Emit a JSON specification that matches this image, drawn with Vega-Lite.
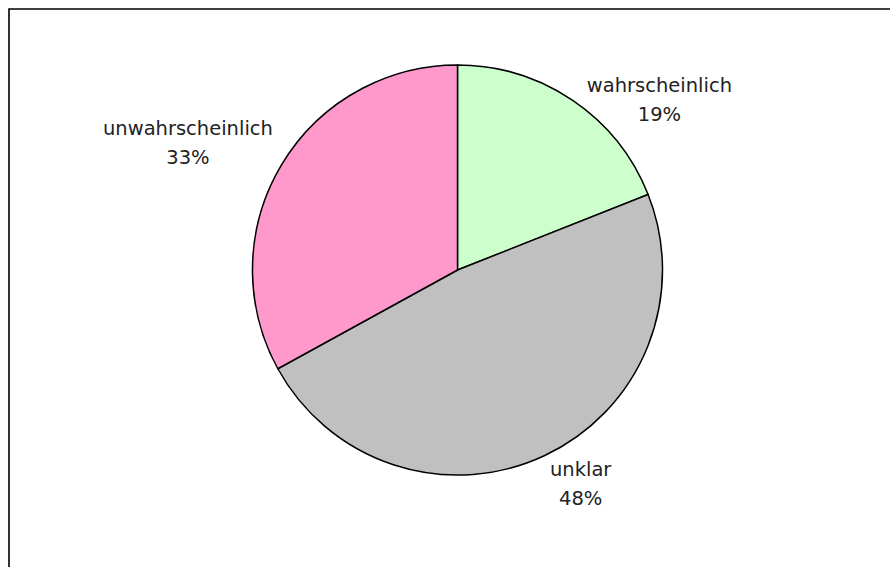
{
  "$schema": "https://vega.github.io/schema/vega-lite/v6.json",
  "autosize": "none",
  "padding": {"left": 9, "top": 9, "right": 0, "bottom": 0},
  "width": 890,
  "height": 567,
  "background": "white",
  "view": {"stroke": "#000", "strokeWidth": 1.6},
  "config": {"view": {"stroke": "#000", "strokeWidth": 1.6}},
  "data": {
    "values": [
      {"k": "wahrscheinlich", "v": 19, "n": 1},
      {"k": "unklar", "v": 48, "n": 2},
      {"k": "unwahrscheinlich", "v": 33, "n": 3}
    ]
  },
  "transform": [{"calculate": "datum.k + '\\n' + datum.v + '%'", "as": "label"}],
  "encoding": {
    "theta": {"field": "v", "type": "quantitative", "stack": true},
    "order": {"field": "n", "type": "quantitative"}
  },
  "layer": [
    {
      "mark": {
        "type": "arc",
        "outerRadius": 205,
        "stroke": "#000",
        "strokeWidth": 1.5,
        "x": {"expr": "width/2 + 3.5"},
        "y": {"expr": "height/2 - 22.5"}
      },
      "encoding": {
        "color": {
          "field": "k",
          "type": "nominal",
          "scale": {
            "domain": ["wahrscheinlich", "unklar", "unwahrscheinlich"],
            "range": ["#CCFFCC", "#C0C0C0", "#FF99CC"]
          },
          "legend": null
        }
      }
    },
    {
      "mark": {
        "type": "text",
        "radius": 240,
        "x": {"expr": "width/2 + 3.5"},
        "y": {"expr": "height/2 - 22.5"},
        "dx": {"expr": "datum.k == 'wahrscheinlich' ? 67 : datum.k == 'unklar' ? 21 : -63"},
        "dy": {"expr": "datum.k == 'wahrscheinlich' ? 14 : datum.k == 'unklar' ? -17.5 : -18.5"},
        "font": "DejaVu Sans",
        "fontSize": 19.5,
        "color": "#222",
        "lineBreak": "\n",
        "lineHeight": 29,
        "align": "center",
        "baseline": "middle"
      },
      "encoding": {"text": {"field": "label", "type": "nominal"}}
    }
  ]
}
